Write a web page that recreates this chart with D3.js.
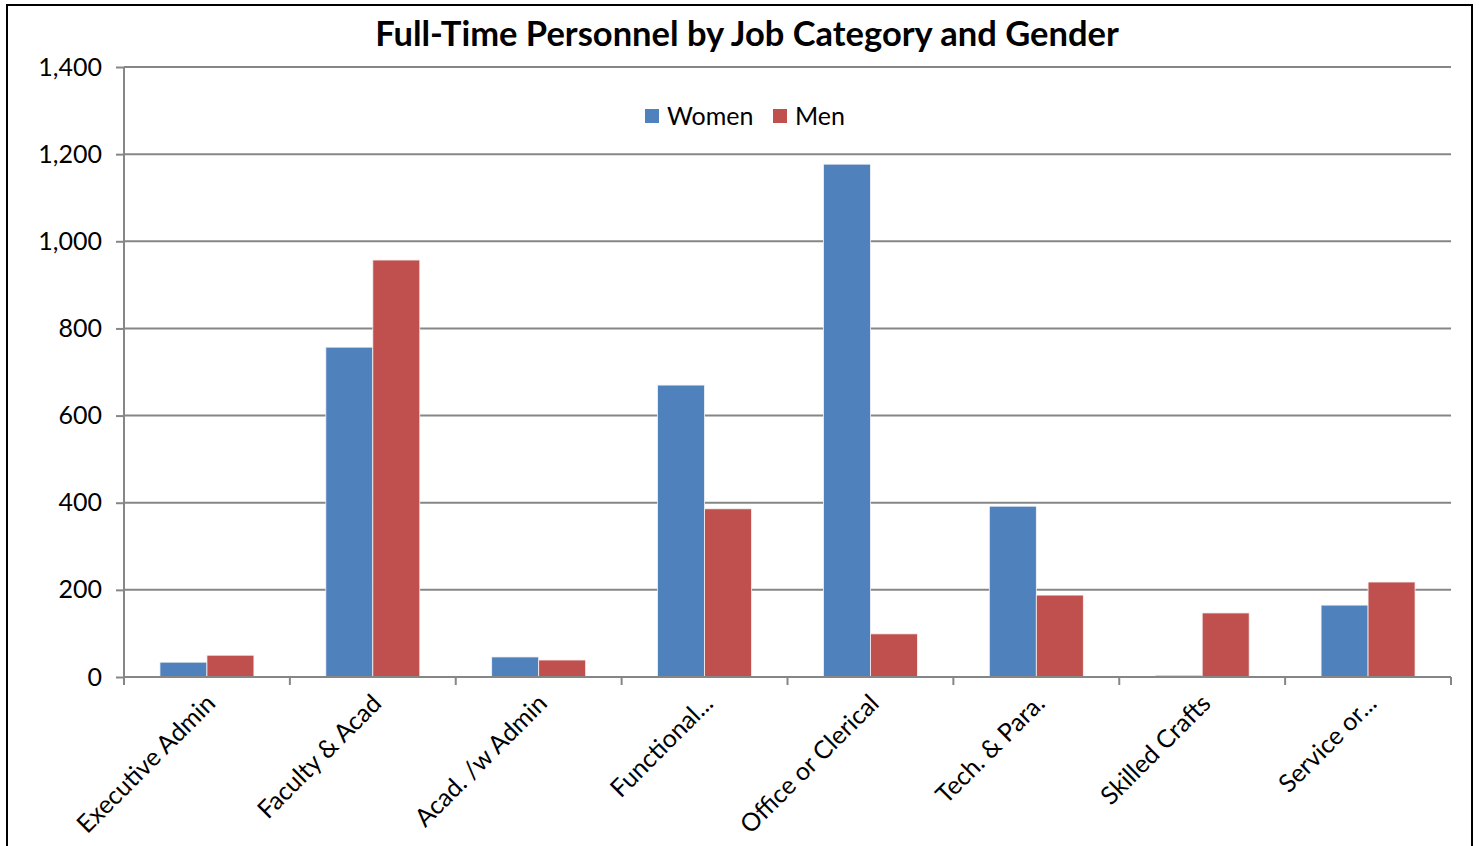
<!DOCTYPE html>
<html><head><meta charset="utf-8">
<script src="https://cdn.jsdelivr.net/npm/d3@7"></script>
<style>
html,body{margin:0;padding:0;background:#fff;}
text{font-family:Lato,"Open Sans",sans-serif;}
</style></head>
<body>
<svg id="c" width="1479" height="846"></svg>
<script>
const categories = ["Executive Admin","Faculty & Acad","Acad. /w Admin","Functional...","Office or Clerical","Tech. & Para.","Skilled Crafts","Service or..."];
const women = [34, 757, 46, 670, 1177, 392, 4, 165];
const men = [50, 957, 39, 386, 99, 188, 147, 218];
const seriesNames = ["Women","Men"];
const seriesColors = ["#4F81BD","#C0504D"];
const yTicks = [0,200,400,600,800,1000,1200,1400];

(function(){
const svg = d3.select("#c");
svg.append("rect").attr("x",7).attr("y",5).attr("width",1465).attr("height",860)
  .attr("fill","#fff").attr("stroke","#000").attr("stroke-width",2);

const pL=124, pR=1451, pT=67, pB=677;
const x = d3.scaleBand().domain(categories).range([pL,pR]).paddingInner(0).paddingOuter(0);
const y = d3.scaleLinear().domain([0,1400]).range([pB,pT]);
const xs = d3.scaleBand().domain(seriesNames).range([0,x.bandwidth()]).paddingInner(0).paddingOuter(0.765);

// gridlines
svg.append("g").selectAll("line").data(yTicks.filter(d=>d>0)).join("line")
  .attr("x1",pL).attr("x2",pR).attr("y1",d=>y(d)).attr("y2",d=>y(d))
  .attr("stroke","#868686").attr("stroke-width",2);

// y axis
const ya = svg.append("g").attr("transform",`translate(${pL},0)`)
  .call(d3.axisLeft(y).tickValues(yTicks).tickFormat(d3.format(",")).tickSize(8).tickPadding(14));
ya.select(".domain").attr("stroke","#868686").attr("stroke-width",2).attr("d",`M0,${pT}V${pB}`);
ya.selectAll(".tick line").attr("stroke","#868686").attr("stroke-width",2);
ya.selectAll(".tick text").attr("font-size",25).attr("fill","#000").attr("font-family","Lato,'Open Sans',sans-serif");

// bars
const data = categories.map((c,i)=>({c, vals:[women[i],men[i]]}));
const g = svg.append("g");
g.selectAll("g").data(data).join("g").attr("transform",d=>`translate(${x(d.c)},0)`)
  .selectAll("rect").data(d=>d.vals.map((v,j)=>({v,s:seriesNames[j],j}))).join("rect")
  .attr("x",d=>xs(d.s)).attr("width",xs.bandwidth())
  .attr("y",d=>y(d.v)).attr("height",d=>pB-y(d.v))
  .attr("fill",d=>seriesColors[d.j]).attr("stroke","#f4f4f4").attr("stroke-width",0.8);

// x axis
const xa = svg.append("g").attr("transform",`translate(0,${pB})`)
  .call(d3.axisBottom(x).tickSize(0).tickFormat(""));
xa.select(".domain").attr("stroke","#868686").attr("stroke-width",2).attr("d",`M${pL},0H${pR}`);
const bounds = d3.range(categories.length+1).map(i=>pL+i*x.step());
svg.append("g").selectAll("line").data(bounds).join("line")
  .attr("x1",d=>d).attr("x2",d=>d).attr("y1",pB).attr("y2",pB+8)
  .attr("stroke","#868686").attr("stroke-width",2);
svg.append("g").selectAll("text").data(categories).join("text")
  .attr("transform",d=>`translate(${x(d)+x.bandwidth()/2+10},${pB+28}) rotate(-45)`)
  .attr("text-anchor","end").attr("font-size",25).attr("fill","#000").text(d=>d);

// title
svg.append("text").attr("x",747).attr("y",46).attr("text-anchor","middle")
  .attr("font-size",34.5).attr("font-weight","bold").attr("fill","#000")
  .text("Full-Time Personnel by Job Category and Gender");

// legend
const lg = svg.append("g");
const legX = [645, 773];
seriesNames.forEach((s,i)=>{
  lg.append("rect").attr("x",legX[i]).attr("y",109).attr("width",14).attr("height",14).attr("fill",seriesColors[i]);
  lg.append("text").attr("x",legX[i]+22).attr("y",125).attr("font-size",25).attr("fill","#000").text(s);
});
})();
</script>
</body></html>
